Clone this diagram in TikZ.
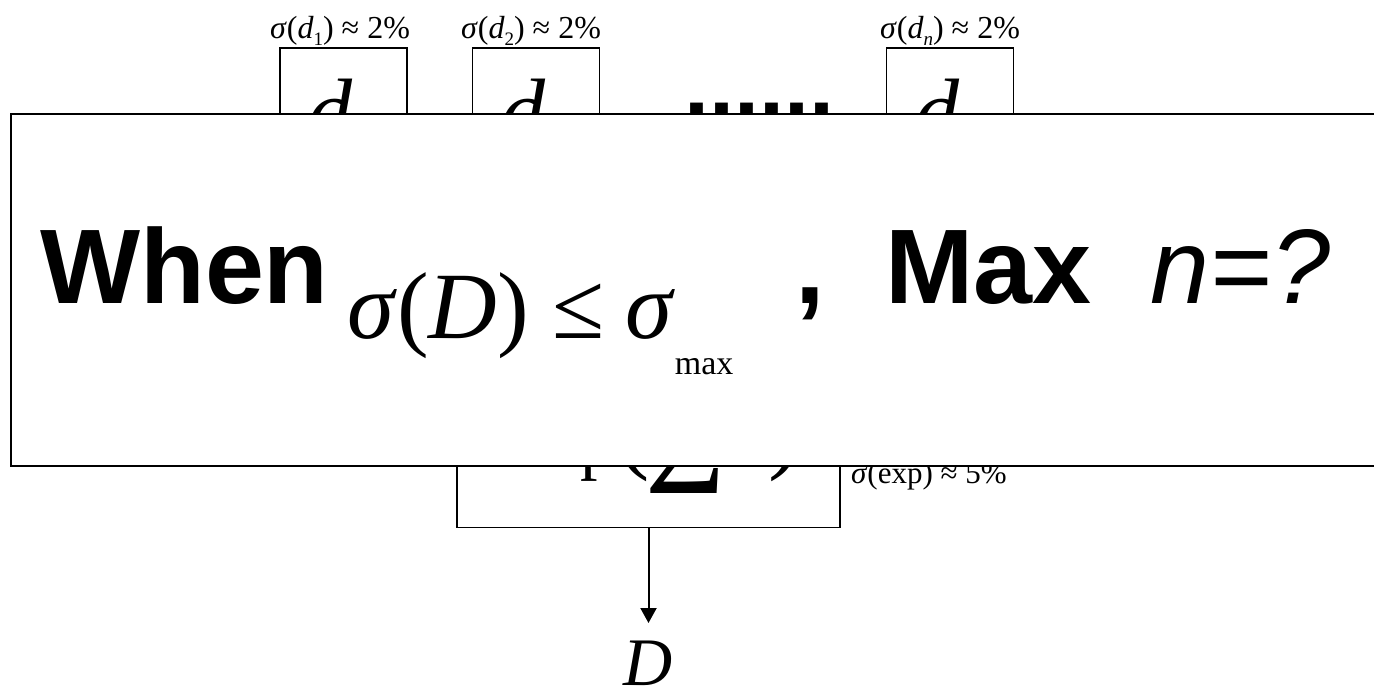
\documentclass[tikz,border=0pt]{standalone}
\usepackage{fontspec}
\setmainfont{Liberation Serif}
\setsansfont{Liberation Sans}
\usetikzlibrary{arrows.meta}
\newcommand{\fsz}[1]{\fontsize{#1}{#1}\selectfont}
\newcommand{\sg}{\textit{σ}}
\newcommand{\lsub}[1]{\raisebox{-7pt}{\fsz{19}#1}}
\begin{document}
\begin{tikzpicture}[x=1pt,y=-1pt,
  lbl/.style={font=\fsz{32}, inner sep=0pt, anchor=base},
  dbox/.style={draw, line width=1.5pt, minimum width=127pt, minimum height=150pt, anchor=north, inner sep=0pt},
  dletter/.style={font=\itshape\fsz{90}, inner sep=0pt, anchor=base},
  bigtxt/.style={font=\sffamily\bfseries\fsz{106}, inner sep=0pt, anchor=base west},
  formula/.style={inner sep=0pt, anchor=base west},
  conn/.style={line width=2pt, -{Triangle[width=16pt,length=15pt]}}]
\useasboundingbox (0,0) rectangle (1374,691);
\clip (0,0) rectangle (1374,691);
% top labels
\node[lbl] (l1) at (340,38) {\sg(\textit{d}\lsub{1}) ≈ 2\%};
\node[lbl] (l2) at (531,38) {\sg(\textit{d}\lsub{2}) ≈ 2\%};
\node[lbl] (ln) at (950,38) {\sg(\textit{d}\lsub{\textit{n}}) ≈ 2\%};
% d boxes
\node[dbox] (b1) at (343.5,47) {};
\node[dbox] (b2) at (536,47) {};
\node[dbox] (bn) at (950,47) {};
\node[dletter] (d1) at (330,141) {d};
\node[dletter] (d2) at (523,141) {d};
\node[dletter] (dn) at (937,141) {d};
\node[inner sep=0pt, anchor=base, font=\sffamily\bfseries\fsz{90}] (dots) at (759.5,116.6) {......};
% exp box
\node[draw, line width=1.5pt, minimum width=383pt, minimum height=228pt, anchor=south, inner sep=0pt] (ebox) at (648.5,528) {};
\node[formula, font=\fsz{70}] (fexp) at (514,466) {exp};
\node[formula, font=\fsz{100}] (fpl) at (616,460) {(};
\node[formula, font=\fsz{137}] (fsum) at (645,493) {Σ};
\node[formula, font=\fsz{100}] (fpr) at (768,460) {)};
\node[formula, font=\fsz{31}] (lexp) at (851,483) {\sg(exp) ≈ 5\%};
% overlay box
\node[draw, fill=white, line width=2pt, minimum width=1400pt, minimum height=352pt, anchor=north west, inner sep=0pt] (big) at (10,113) {};
\node[bigtxt] (when) at (40,303) {When};
\node[formula, font=\fsz{95}] (cond) at (347,338) {\sg(\textit{D})\hspace{24pt}≤\hspace{20pt}\sg\raisebox{-36pt}{\fsz{34}max}};
\node[bigtxt] (comma) at (795,303) {,};
\node[bigtxt] (max) at (885,303) {Max};
\node[formula, font=\sffamily\itshape\fsz{106}] (neq) at (1150,303) {n=?};
% output
\coordinate (tip) at (648.5,623);
\draw[conn] (ebox.south) -- (tip);
\node[inner sep=0pt, anchor=base, font=\itshape\fsz{68}] (D) at (648,685) {D};
\end{tikzpicture}
\end{document}
